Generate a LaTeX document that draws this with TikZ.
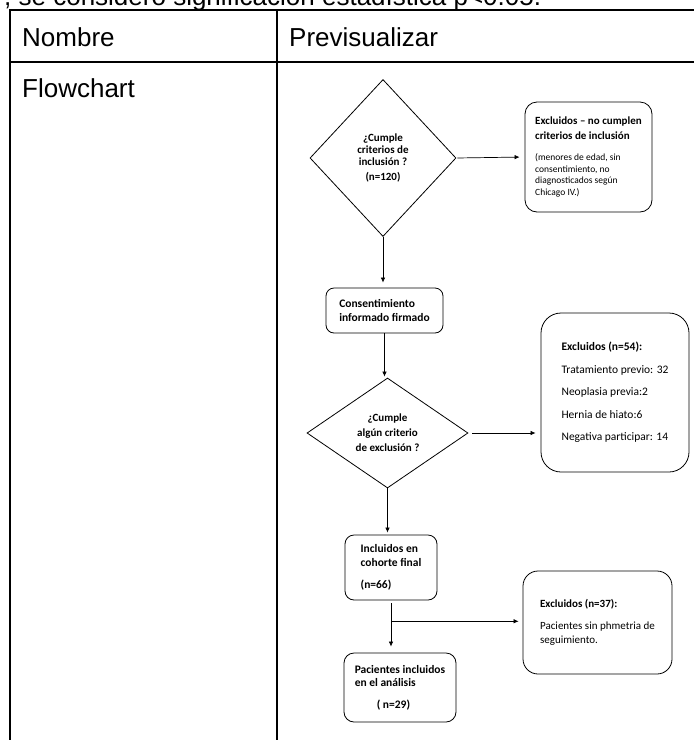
\documentclass[tikz,border=0pt]{standalone}
\usepackage{fontspec}
\setmainfont{Liberation Sans}
\newfontfamily\chartfont{Carlito}
\usetikzlibrary{positioning,calc,shapes.geometric,arrows.meta}

\begin{document}
\begin{tikzpicture}[x=1pt, y=-1pt,
  nodes = {font=\chartfont\bfseries\fontsize{11.5}{13.5}\selectfont},
  tabline/.style = {line width=1.1pt},
  tabtext/.style = {anchor=base west, inner sep=0pt,
    font=\fontsize{26}{30}\selectfont},
  decision/.style = {draw, diamond, inner sep=0pt, align=center,
    line width=0.8pt},
  process/.style = {draw, rounded corners=8pt, align=left,
    inner sep=0pt, line width=0.8pt},
  arr/.style = {-{Latex[length=5pt,width=4.5pt]}, line width=0.7pt}
  ]
  \useasboundingbox (0,0) rectangle (694,740);

  % table
  \begin{scope}
    \clip (0,0) rectangle (694,740);
    \node (note) [tabtext] at (4,5) {, se consideró significación estadística p<0.05.};
  \end{scope}
  \draw [tabline] (10,740) -- (10,10) -- (694,10);
  \draw [tabline] (10,62) -- (694,62);
  \draw [tabline] (277,10) -- (277,740);
  \node (hdname) [tabtext] at (22,46) {Nombre};
  \node (hdprev) [tabtext] at (289,46) {Previsualizar};
  \node (rowname) [tabtext] at (22,97) {Flowchart};

  % flowchart
  \node (dec1) [decision, minimum width=146pt, minimum height=157pt,
    font=\chartfont\bfseries\fontsize{11}{12}\selectfont] at (383,158)
    {¿Cumple\\criterios de\\inclusión ?\\[3.5pt](n=120)};
  \node (exc1) [process, rounded corners=12pt, minimum width=127pt,
    minimum height=110pt, font=\chartfont\fontsize{9.5}{11.5}\selectfont] at (588.5,157)
    {{\bfseries\fontsize{11}{15}\selectfont Excluidos – no cumplen}\\[3pt]
     {\bfseries\fontsize{11}{15}\selectfont criterios de inclusión}\\[10pt]
     (menores de edad, sin\\consentimiento, no\\diagnosticados según\\Chicago IV.)};
  \node (cons) [process, minimum width=117pt, minimum height=45pt] at (384.5,310.5)
    {Consentimiento\\informado firmado};
  \node (dec2) [decision, aspect=1.5, minimum width=161pt, minimum height=110pt,
    font=\chartfont\bfseries\fontsize{11}{15}\selectfont] at (387.5,433)
    {¿Cumple\\algún criterio\\de exclusión ?};
  \node (exc2) [process, rounded corners=20pt, minimum width=148pt,
    minimum height=159pt, font=\chartfont\fontsize{11.5}{22.5}\selectfont] at (615,392.5)
    {\textbf{Excluidos (n=54):}\\Tratamiento previo: 32\\Neoplasia previa:2\\
     Hernia de hiato:6\\Negativa participar: 14};
  \node (incl) [process, rounded corners=9pt, minimum width=92pt,
    minimum height=65pt] at (391,567.5)
    {Incluidos en\\cohorte final\\[9pt](n=66)};
  \node (exc3) [process, rounded corners=15pt, minimum width=149pt,
    minimum height=103pt, font=\chartfont\fontsize{11}{14}\selectfont] at (597.5,622.5)
    {\textbf{Excluidos (n=37):}\\[8pt]Pacientes sin phmetria de\\seguimiento.};
  \node (final) [process, rounded corners=10pt, minimum width=112pt,
    minimum height=69pt] at (400,687.5)
    {Pacientes incluidos\\en el análisis\\[8pt]\hspace*{22pt}( n=29)};

  \coordinate (split) at ($(incl.south)!0.4!(incl.south |- final.north)$);

  \draw [arr, shorten <=1pt, shorten >=5pt] (dec1.east) -- (exc1.west);
  \draw [arr, shorten >=5pt] (dec1.south) -- (dec1.south |- cons.north);
  \draw [arr, shorten >=1pt] (cons.south) -- (cons.south |- dec2.north);
  \draw [arr, shorten <=4pt, shorten >=5pt] (dec2.east) -- (dec2.east -| exc2.west);
  \draw [arr, shorten >=2pt] (dec2.south) -- (dec2.south |- incl.north);
  \draw [arr, shorten <=3pt, shorten >=6pt] (incl.south) -- (incl.south |- final.north);
  \draw [arr, shorten >=4pt] (split) -- (split -| exc3.west);
\end{tikzpicture}
\end{document}
